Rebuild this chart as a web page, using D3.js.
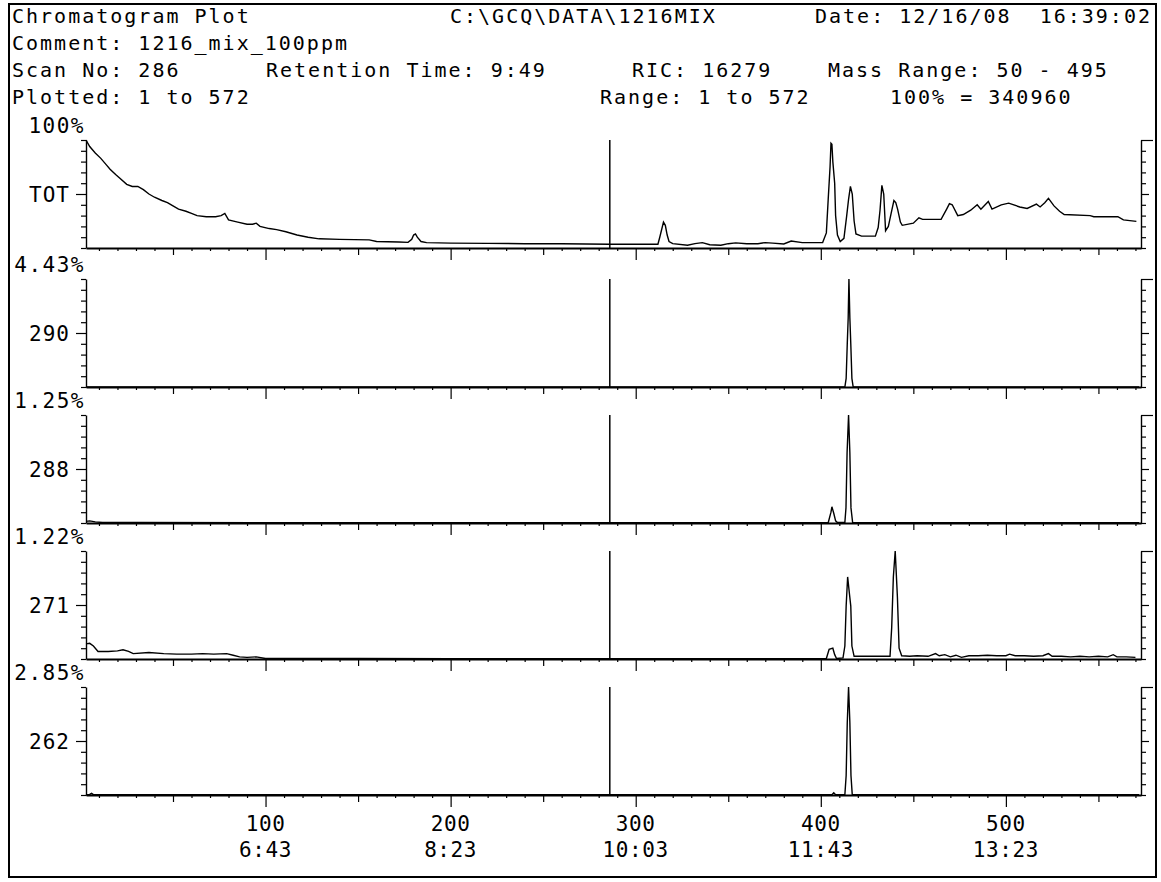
<!DOCTYPE html>
<html>
<head>
<meta charset="utf-8">
<script src="https://cdn.jsdelivr.net/npm/d3@7"></script>
<style>
  html, body { margin: 0; padding: 0; background: #fff; }
  svg { display: block; }
  text { font-family: "DejaVu Sans Mono", monospace; fill: #000; white-space: pre; }
</style>
</head>
<body>
<svg id="chart" width="1161" height="882"></svg>
<script>
// ---- Header texts ----
const headerText = [
  "Chromatogram Plot", "C:\\GCQ\\DATA\\1216MIX", "Date: 12/16/08  16:39:02",
  "Comment: 1216_mix_100ppm",
  "Scan No: 286", "Retention Time: 9:49", "RIC: 16279", "Mass Range: 50 - 495",
  "Plotted: 1 to 572", "Range: 1 to 572", "100% = 340960"
];

// ---- Panel labels ----
const panelNames = ["TOT", "290", "288", "271", "262"];
const panelScaleText = ["100%", "4.43%", "1.25%", "1.22%", "2.85%"];

// ---- X axis ----
const scanTicks = [100, 200, 300, 400, 500];
const timeLabels = ["6:43", "8:23", "10:03", "11:43", "13:23"];
const markerScan = 286;

// ---- Traces: [scan, % of panel full scale] ----
const traceTOT = [
  [3,100],[5,94],[8,88],[11,83],[14,77],[16,73],[19,68],[21,65],[25,59],[28,57],[31,57],
  [34,54],[37,50],[40,47],[44,44],[47,42],[50,39],[53,36],[57,34],[60,32],[63,30],[68,29],
  [73,29],[76,30],[78,32],[80,26],[85,24],[90,22],[93,22],[95,23],[97,20],[102,18],[106,17],
  [111,15],[117,12],[123,10],[129,8.5],[140,8],[156,7.5],[160,6],[172,5.5],[177,5.2],[179,8],
  [180,12],[181,13],[182,10],[184,6],[187,5],[200,4.5],[220,4.3],[240,4],[260,4],[286,3.5],
  [312,3.5],[313,10],[315,24],[316,21],[317,12],[318,6],[320,4],[328,2.5],[332,4],[336,5],
  [340,3],[346,2.5],[350,4],[354,4.7],[360,4],[366,4],[370,5],[374,4.5],[380,3.7],[384,6.5],
  [390,5],[396,5],[401,5],[403,14],[404,45],[405,75],[405.5,97],[406,96],[406.5,80],[407.5,60],
  [408,30],[409,12],[410.5,6],[412.5,9],[414,30],[415,45],[416,57],[417,50],[418,25],[419,13],
  [422,11],[429.5,11],[431,19],[432,35],[433,58],[434,50],[435,16],[436.5,20],[438,32],
  [439.5,44],[440.5,42],[441.5,36],[443,24],[444,21],[450,23],[453,28],[455,26.5],[465,26.5],
  [468,36],[469.5,41],[471,40],[474,30],[477,31],[481,35],[484.5,40],[486.5,36],[490.5,43],
  [492.5,36],[497.5,40],[501.5,41.5],[507.5,38],[511.5,36.6],[516.5,40.6],[518.5,38],[521,42],
  [523,46],[526,39],[529,34],[531.5,31],[545.5,30],[547.5,29],[560.5,29],[563.5,26],[570.5,24.7]
];
const trace290 = [
  [3,0],[413,0],[413.7,8],[414.3,40],[414.8,64],[415.2,100],[415.7,64],[416.2,40],[416.8,8],
  [417.5,0],[572,0]
];
const trace288 = [
  [3,1.5],[5,2],[8,1],[12,0.5],[30,0.5],[100,0.3],[286,0.3],[404,0.3],[405.5,10],[406,15],
  [407,9],[408,2],[409,0.5],[413,0.5],[413.6,14],[414.2,65],[415,100],[415.7,65],[416.3,14],
  [417.2,0.5],[572,0.3]
];
const trace271 = [
  [3,14],[5,14.5],[7,12],[9.5,7],[15,7],[20,7.5],[23,8.5],[26,7],[28.5,5],[37,6],[45,5],
  [52,4.5],[60,4.5],[66,5],[72,4.5],[79,5],[82.5,3.5],[86,2],[90,1.5],[95,2],[100,0.5],
  [150,0.5],[200,0.3],[286,0.3],[400,0.3],[403,0.5],[404.5,9],[406.5,10],[407.5,4],[408.5,0.5],
  [412,1],[413,12],[413.7,49],[414.5,76],[415.5,60],[416.2,49],[416.8,12],[418,2.5],[437.4,2.5],
  [438.3,29],[439.2,76],[440.2,100],[441.4,57],[442.3,10],[443.7,3],[448,2.5],[452,3],[458,2.5],
  [462,5],[464,3],[467,4],[470,2],[473,3.5],[476,1.5],[480,3],[485,3],[490,3.5],[495,3],
  [500,3],[502,4.5],[505,3],[510,3],[515,2.5],[520,3],[523,5],[525,2.5],[530,2.5],[535,2],
  [540,2.5],[545,2],[550,2.5],[555,2],[558,4],[560,2],[565,2],[570,1.5]
];
const trace262 = [
  [3,0],[5,0.5],[6,1.5],[7,0.3],[100,0.3],[286,0.3],[406,0.3],[407,2],[408,0.3],[413,0.3],
  [413.7,18],[414.3,67],[415,100],[415.7,67],[416.3,18],[417,0.3],[572,0.3]
];
const traces = [traceTOT, trace290, trace288, trace271, trace262];

// ---- Layout ----
const headerPos = [
  [12, 23], [450, 23], [815, 23],
  [12, 50],
  [12, 77], [266, 77], [632, 77], [828, 77],
  [12, 104], [600, 104], [890, 104]
];
const panelTop = [140, 279, 415, 551, 687];
const panelH = 108;
const plotLeft = 86, plotRight = 1141;

const svg = d3.select("#chart");

// outer frame
svg.append("rect")
  .attr("x", 9).attr("y", 4).attr("width", 1147).attr("height", 873)
  .attr("fill", "none").attr("stroke", "#000").attr("stroke-width", 2);

// header
svg.append("g").selectAll("text").data(headerText).join("text")
  .attr("x", (d, i) => headerPos[i][0])
  .attr("y", (d, i) => headerPos[i][1])
  .style("font-size", "20px")
  .style("letter-spacing", "2px")
  .text(d => d);

const x = d3.scaleLinear().domain([3, 573]).range([plotLeft, plotRight]);
const pctTicks = d3.range(0, 101, 10);
const scanMinor = d3.range(10, 571, 10);

traces.forEach((trace, i) => {
  const top = panelTop[i], bottom = top + panelH;
  const y = d3.scaleLinear().domain([0, 100]).range([bottom, top]);
  const g = svg.append("g");

  // left axis
  const gl = g.append("g").attr("transform", `translate(${plotLeft},0)`)
    .call(d3.axisLeft(y).tickValues(pctTicks).tickFormat("").tickSizeOuter(0).tickSizeInner(5));
  gl.selectAll(".tick line").attr("x2", d => d === 50 ? -10 : -5);

  // right axis
  const gr = g.append("g").attr("transform", `translate(${plotRight},0)`)
    .call(d3.axisRight(y).tickValues(pctTicks).tickFormat("").tickSizeOuter(0).tickSizeInner(5));
  gr.selectAll(".tick line").attr("x2", d => d === 100 ? 12 : d === 50 ? 8 : 5);

  // bottom axis
  const gb = g.append("g").attr("transform", `translate(0,${bottom})`)
    .call(d3.axisBottom(x).tickValues(scanMinor).tickFormat("").tickSizeOuter(0));
  gb.selectAll(".tick line").attr("y2", d => d % 100 === 0 ? 12 : d % 50 === 0 ? 7 : 3);
  gb.select(".domain").attr("stroke-width", 2.2);

  [gl, gr].forEach(a => a.select(".domain").attr("stroke-width", 1.4));
  g.selectAll(".tick line").attr("stroke-width", 1.2);

  // scan marker
  g.append("line")
    .attr("x1", x(markerScan)).attr("x2", x(markerScan))
    .attr("y1", y(0)).attr("y2", y(100))
    .attr("stroke", "#000").attr("stroke-width", 1.5);

  // chromatogram trace
  g.append("path").datum(trace)
    .attr("fill", "none").attr("stroke", "#000").attr("stroke-width", 1.4)
    .attr("stroke-linejoin", "miter")
    .attr("d", d3.line().x(d => x(d[0])).y(d => y(d[1])));

  // labels
  g.append("text")
    .attr("x", 85).attr("y", top - 7).attr("text-anchor", "end")
    .style("font-size", "21px").style("letter-spacing", "1.5px")
    .text(panelScaleText[i]);
  g.append("text")
    .attr("x", 70).attr("y", y(50) + 8).attr("text-anchor", "end")
    .style("font-size", "21px").style("letter-spacing", "1px")
    .text(panelNames[i]);

  // scan / time labels under the last panel
  if (i === traces.length - 1) {
    const lab = g.append("g").selectAll("text").data(scanTicks).join("text")
      .attr("x", d => x(d)).attr("text-anchor", "middle")
      .style("font-size", "21px").style("letter-spacing", "0.6px");
    lab.append("tspan").attr("x", d => x(d)).attr("y", bottom + 36).text(d => d);
    lab.append("tspan").attr("x", d => x(d)).attr("y", bottom + 62).text((d, k) => timeLabels[k]);
  }
});
</script>
</body>
</html>
